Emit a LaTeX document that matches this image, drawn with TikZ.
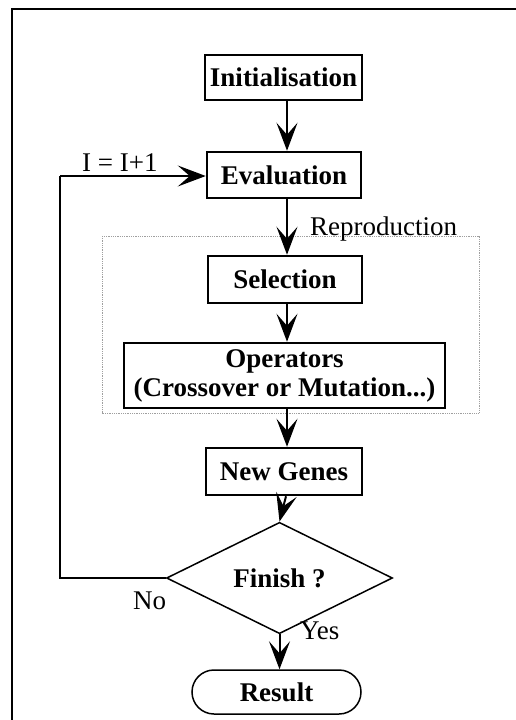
\documentclass[tikz,border=0pt]{standalone}
\usepackage{fontspec}
\setmainfont{Liberation Serif}
\usetikzlibrary{arrows.meta,shapes.geometric}

\tikzset{
  lbl/.style={font=\fontsize{27}{29}\selectfont, inner sep=0pt},
  stepbox/.style={draw, line width=2.5pt, inner sep=0pt,
    font=\fontsize{27}{29}\selectfont\bfseries, align=center},
  flow/.style={line width=2pt, -{Stealth[length=28pt, width=21pt, inset=12pt]}},
  decision/.style={diamond, draw, line width=1.5pt, inner sep=0pt,
    font=\fontsize{27}{29}\selectfont\bfseries},
  terminal/.style={draw, line width=1.5pt, rounded corners=22pt, inner sep=0pt,
    font=\fontsize{27}{29}\selectfont\bfseries},
  group/.style={draw=gray!75, densely dotted, line width=0.8pt},
}

\begin{document}
\begin{tikzpicture}[x=1pt, y=-1pt]
  \useasboundingbox (0,0) rectangle (516,720);

  % page frame (top and left edges)
  \draw[line width=2.6pt] (12,720) -- (12,9) -- (516,9);

  % reproduction group
  \draw[group] (102,236) rectangle (479,413);
  \node[lbl, anchor=base west] (repro) at (310,235) {Reproduction};

  % process steps
  \node[stepbox, minimum width=157pt, minimum height=45pt] (init) at (283.5,77.5) {Initialisation};
  \node[stepbox, minimum width=154pt, minimum height=46pt] (eval) at (284,175) {Evaluation};
  \node[stepbox, minimum width=154pt, minimum height=47pt] (sel) at (285,279.5) {Selection};
  \node[stepbox, minimum width=321pt, minimum height=65pt] (ops) at (284.5,375.5)
    {Operators\\(Crossover or Mutation...)};
  \node[stepbox, minimum width=156pt, minimum height=47pt] (new) at (284,471.5) {New Genes};
  \node[decision, minimum width=226pt, minimum height=88pt] (finish) at (279.5,578) {Finish ?};
  \node[terminal, minimum width=169pt, minimum height=44pt] (result) at (276.5,692) {Result};

  % labels
  \node[lbl, anchor=base west] (inc) at (82,171) {I = I+1};
  \node[lbl, anchor=base west] (no) at (133,609) {No};
  \node[lbl, anchor=base west] (yes) at (300,639) {Yes};

  % connectors
  \draw[flow] (init.south -| 287,0) -- (eval.north -| 287,0);
  \draw[flow] (eval.south -| 287,0) -- (sel.north -| 287,0);
  \draw[flow] (sel.south -| 287,0) -- (ops.north -| 287,0);
  \draw[flow] (ops.south -| 287,0) -- (new.north -| 287,0);
  \draw[flow] ([xshift=2pt]new.south) -- (finish.north);
  \draw[flow] (finish.south) -- (finish.south |- result.north);
  \draw[line width=1.5pt] (finish.west) -- (60,578) -- (60,176);
  \draw[flow, line width=1.5pt] (60,176) -- (eval.west |- 0,176);
\end{tikzpicture}
\end{document}
